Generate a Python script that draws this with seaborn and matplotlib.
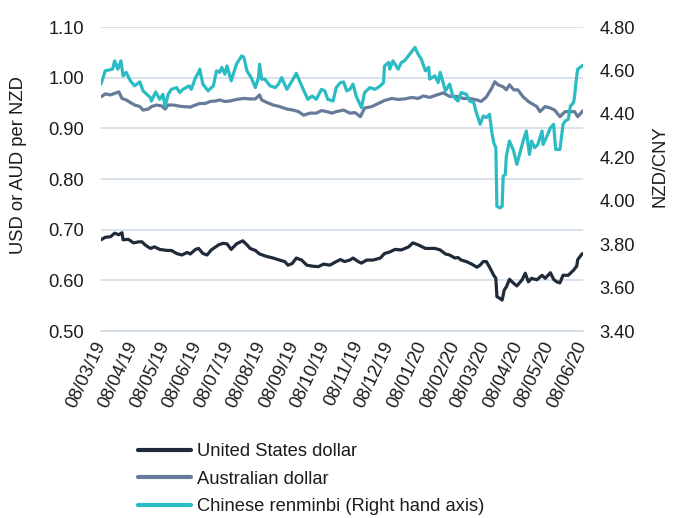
import matplotlib
matplotlib.use("Agg")
import matplotlib.pyplot as plt
from matplotlib.lines import Line2D
import seaborn as sns
import pandas as pd

# ---------------- data ----------------
usd_dates = ["2019-03-08","2019-03-12","2019-03-17","2019-03-21","2019-03-25","2019-03-28","2019-03-29",
             "2019-04-03","2019-04-08","2019-04-13","2019-04-16","2019-04-19","2019-04-24","2019-04-28",
             "2019-05-03","2019-05-10","2019-05-14","2019-05-19","2019-05-24","2019-05-29","2019-06-01",
             "2019-06-06","2019-06-09","2019-06-13","2019-06-17","2019-06-21","2019-06-28","2019-07-02",
             "2019-07-06","2019-07-10","2019-07-15","2019-07-21","2019-07-25","2019-07-28","2019-08-02",
             "2019-08-06","2019-08-13","2019-08-19","2019-08-25","2019-08-30","2019-09-02","2019-09-06",
             "2019-09-10","2019-09-15","2019-09-20","2019-09-25","2019-10-01","2019-10-06","2019-10-12",
             "2019-10-18","2019-10-22","2019-10-26","2019-10-31","2019-11-03","2019-11-08","2019-11-11",
             "2019-11-16","2019-11-22","2019-11-29","2019-12-03","2019-12-08","2019-12-13","2019-12-19",
             "2019-12-26","2019-12-30","2020-01-04","2020-01-11","2020-01-15","2020-01-20","2020-01-25",
             "2020-01-30","2020-02-03","2020-02-08","2020-02-11","2020-02-14","2020-02-19","2020-02-24",
             "2020-02-29","2020-03-03","2020-03-06","2020-03-09","2020-03-12","2020-03-16","2020-03-18",
             "2020-03-19","2020-03-22","2020-03-24","2020-03-26","2020-03-28","2020-03-31","2020-04-04",
             "2020-04-07","2020-04-12","2020-04-15","2020-04-18","2020-04-21","2020-04-26","2020-05-01",
             "2020-05-04","2020-05-09","2020-05-12","2020-05-15","2020-05-18","2020-05-21","2020-05-26",
             "2020-05-31","2020-06-03","2020-06-04","2020-06-08","2020-06-09"]
usd_values = [0.680,0.685,0.686,0.693,0.690,0.694,0.680,
              0.681,0.674,0.676,0.676,0.670,0.663,0.666,
              0.661,0.659,0.659,0.653,0.650,0.655,0.652,
              0.661,0.663,0.653,0.650,0.660,0.670,0.673,
              0.672,0.661,0.672,0.678,0.670,0.663,0.659,
              0.652,0.647,0.644,0.640,0.637,0.630,0.633,
              0.644,0.640,0.630,0.628,0.627,0.632,0.630,
              0.637,0.641,0.637,0.640,0.644,0.637,0.634,
              0.640,0.640,0.644,0.653,0.656,0.661,0.660,
              0.666,0.674,0.670,0.663,0.663,0.663,0.660,
              0.652,0.650,0.644,0.645,0.640,0.637,0.632,
              0.626,0.630,0.637,0.637,0.626,0.610,0.604,
              0.568,0.564,0.561,0.581,0.587,0.602,0.594,
              0.589,0.601,0.614,0.597,0.604,0.601,0.610,
              0.604,0.615,0.602,0.597,0.595,0.610,0.610,
              0.620,0.628,0.641,0.652,0.653]

aud_dates = ["2019-03-08","2019-03-12","2019-03-17","2019-03-21","2019-03-25","2019-03-28","2019-04-01",
             "2019-04-05","2019-04-09","2019-04-14","2019-04-17","2019-04-22","2019-04-25","2019-04-30",
             "2019-05-05","2019-05-08","2019-05-11","2019-05-16","2019-05-21","2019-05-25","2019-06-01",
             "2019-06-06","2019-06-10","2019-06-15","2019-06-20","2019-06-25","2019-06-29","2019-07-04",
             "2019-07-09","2019-07-15","2019-07-22","2019-07-28","2019-08-02","2019-08-06","2019-08-08",
             "2019-08-13","2019-08-19","2019-08-25","2019-09-01","2019-09-07","2019-09-12","2019-09-17",
             "2019-09-23","2019-09-29","2019-10-04","2019-10-09","2019-10-14","2019-10-18","2019-10-25",
             "2019-10-31","2019-11-05","2019-11-10","2019-11-14","2019-11-21","2019-11-27","2019-12-03",
             "2019-12-10","2019-12-16","2019-12-22","2019-12-29","2020-01-04","2020-01-09","2020-01-15",
             "2020-01-22","2020-01-28","2020-02-03","2020-02-10","2020-02-16","2020-02-22","2020-02-29",
             "2020-03-04","2020-03-09","2020-03-14","2020-03-17","2020-03-20","2020-03-25","2020-03-28",
             "2020-03-31","2020-04-04","2020-04-08","2020-04-13","2020-04-18","2020-04-21","2020-04-26",
             "2020-04-29","2020-05-04","2020-05-09","2020-05-13","2020-05-18","2020-05-23","2020-05-28",
             "2020-06-01","2020-06-04","2020-06-09"]
aud_values = [0.962,0.968,0.966,0.969,0.972,0.959,0.956,
              0.951,0.946,0.943,0.936,0.938,0.943,0.946,
              0.944,0.938,0.946,0.946,0.944,0.943,0.942,
              0.946,0.949,0.949,0.953,0.954,0.956,0.953,
              0.954,0.957,0.959,0.958,0.958,0.966,0.956,
              0.951,0.946,0.943,0.938,0.936,0.933,0.926,
              0.930,0.930,0.935,0.933,0.930,0.933,0.936,
              0.930,0.931,0.923,0.940,0.943,0.949,0.955,
              0.959,0.957,0.958,0.961,0.959,0.964,0.961,
              0.966,0.970,0.963,0.963,0.959,0.959,0.956,
              0.953,0.962,0.979,0.992,0.986,0.982,0.976,
              0.986,0.976,0.976,0.962,0.953,0.949,0.943,
              0.933,0.943,0.940,0.936,0.923,0.933,0.933,
              0.933,0.923,0.935]

cny_dates = ["2019-03-08","2019-03-12","2019-03-19","2019-03-21","2019-03-24","2019-03-27","2019-03-29",
             "2019-04-01","2019-04-05","2019-04-09","2019-04-14","2019-04-17","2019-04-24","2019-04-25",
             "2019-04-29","2019-05-03","2019-05-06","2019-05-08","2019-05-11","2019-05-14","2019-05-19",
             "2019-05-22","2019-05-25","2019-05-31","2019-06-02","2019-06-06","2019-06-09","2019-06-10",
             "2019-06-13","2019-06-18","2019-06-23","2019-06-26","2019-06-29","2019-07-01","2019-07-04",
             "2019-07-06","2019-07-10","2019-07-15","2019-07-20","2019-07-22","2019-07-25","2019-07-29",
             "2019-08-02","2019-08-05","2019-08-06","2019-08-08","2019-08-11","2019-08-16","2019-08-21",
             "2019-08-24","2019-08-27","2019-09-01","2019-09-06","2019-09-10","2019-09-13","2019-09-18",
             "2019-09-21","2019-09-25","2019-09-29","2019-10-04","2019-10-07","2019-10-10","2019-10-15",
             "2019-10-18","2019-10-22","2019-10-25","2019-10-28","2019-10-31","2019-11-03","2019-11-06",
             "2019-11-11","2019-11-14","2019-11-19","2019-11-24","2019-11-29","2019-12-02","2019-12-03",
             "2019-12-07","2019-12-08","2019-12-11","2019-12-16","2019-12-19","2019-12-22","2019-12-27",
             "2020-01-01","2020-01-04","2020-01-07","2020-01-11","2020-01-14","2020-01-15","2020-01-20",
             "2020-01-23","2020-01-25","2020-01-30","2020-02-03","2020-02-06","2020-02-11","2020-02-14",
             "2020-02-19","2020-02-22","2020-02-26","2020-02-28","2020-03-01","2020-03-03","2020-03-06",
             "2020-03-09","2020-03-12","2020-03-14","2020-03-16","2020-03-18","2020-03-19","2020-03-22",
             "2020-03-24","2020-03-25","2020-03-27","2020-03-28","2020-03-31","2020-04-04","2020-04-07",
             "2020-04-10","2020-04-13","2020-04-16","2020-04-19","2020-04-21","2020-04-24","2020-04-27",
             "2020-05-01","2020-05-02","2020-05-05","2020-05-09","2020-05-12","2020-05-14","2020-05-18",
             "2020-05-21","2020-05-23","2020-05-26","2020-05-28","2020-05-31","2020-06-01","2020-06-03",
             "2020-06-04","2020-06-09"]
cny_values = [4.537,4.598,4.606,4.644,4.606,4.644,4.575,
              4.591,4.552,4.529,4.547,4.506,4.475,4.459,
              4.501,4.467,4.490,4.433,4.490,4.513,4.521,
              4.498,4.513,4.529,4.513,4.567,4.591,4.606,
              4.537,4.506,4.529,4.598,4.591,4.614,4.583,
              4.621,4.552,4.629,4.667,4.661,4.598,4.567,
              4.521,4.567,4.629,4.560,4.560,4.529,4.521,
              4.537,4.567,4.513,4.552,4.587,4.552,4.498,
              4.467,4.482,4.467,4.513,4.506,4.467,4.459,
              4.521,4.544,4.547,4.506,4.513,4.537,4.482,
              4.429,4.498,4.521,4.513,4.529,4.544,4.621,
              4.637,4.606,4.644,4.606,4.637,4.644,4.675,
              4.706,4.675,4.652,4.598,4.614,4.560,4.575,
              4.544,4.591,4.506,4.537,4.482,4.459,4.498,
              4.490,4.459,4.452,4.413,4.383,4.352,4.390,
              4.383,4.398,4.321,4.267,4.244,3.974,3.967,
              3.974,4.113,4.121,4.205,4.275,4.228,4.167,
              4.221,4.275,4.321,4.213,4.275,4.244,4.259,
              4.321,4.259,4.290,4.336,4.352,4.236,4.236,
              4.352,4.367,4.375,4.436,4.452,4.482,4.575,
              4.606,4.624]

series_labels = ["United States dollar", "Australian dollar", "Chinese renminbi (Right hand axis)"]
left_ticks = [0.50, 0.60, 0.70, 0.80, 0.90, 1.00, 1.10]
right_ticks = [3.40, 3.60, 3.80, 4.00, 4.20, 4.40, 4.60, 4.80]
x_tick_dates = ["2019-03-08","2019-04-08","2019-05-08","2019-06-08","2019-07-08","2019-08-08",
                "2019-09-08","2019-10-08","2019-11-08","2019-12-08","2020-01-08","2020-02-08",
                "2020-03-08","2020-04-08","2020-05-08","2020-06-08"]
x_start, x_end = "2019-03-08", "2020-06-09"
left_label = "USD or AUD per NZD"
right_label = "NZD/CNY"

# ---------------- style ----------------
C_USD = "#1f2b39"
C_AUD = "#667b9a"
C_CNY = "#2bbcc3"
GRID = "#d5dee8"
TXT = "#1c1c1c"
FS = 13.2
LW = 2.3

sns.set_style("white")
plt.rcParams["font.family"] = ["Liberation Sans", "DejaVu Sans"]

fig = plt.figure(figsize=(6.77, 5.18), dpi=100)
W, H = 677, 518
ax = fig.add_axes([101 / W, 1 - 331 / H, 482 / W, 304 / H])
ax2 = ax.twinx()

df_usd = pd.DataFrame({"date": pd.to_datetime(usd_dates), "value": usd_values})
df_aud = pd.DataFrame({"date": pd.to_datetime(aud_dates), "value": aud_values})
df_cny = pd.DataFrame({"date": pd.to_datetime(cny_dates), "value": cny_values})

sns.lineplot(data=df_usd, x="date", y="value", ax=ax, color=C_USD, linewidth=LW, legend=False)
sns.lineplot(data=df_aud, x="date", y="value", ax=ax, color=C_AUD, linewidth=LW, legend=False)
sns.lineplot(data=df_cny, x="date", y="value", ax=ax2, color=C_CNY, linewidth=LW, legend=False)

ax.set_xlim(pd.Timestamp(x_start), pd.Timestamp(x_end))
ax.set_ylim(left_ticks[0], left_ticks[-1])
ax2.set_ylim(right_ticks[0], right_ticks[-1])
ax.set_yticks(left_ticks)
ax.set_yticklabels([f"{v:.2f}" for v in left_ticks])
ax2.set_yticks(right_ticks)
ax2.set_yticklabels([f"{v:.2f}" for v in right_ticks])

xt = pd.to_datetime(x_tick_dates)
ax.set_xticks(xt)
ax.set_xticklabels([d.strftime("%d/%m/%y") for d in xt])

ax.set_xlabel("")
ax.set_ylabel("")
ax2.set_ylabel("")

ax.grid(axis="y", color=GRID, linewidth=1.3)
ax.grid(axis="x", visible=False)
ax2.grid(False)
ax.set_axisbelow(True)

for a in (ax, ax2):
    for s in a.spines.values():
        s.set_visible(False)
ax.spines["bottom"].set_visible(True)
ax.spines["bottom"].set_color(GRID)
ax.spines["bottom"].set_linewidth(1.3)

ax.tick_params(axis="y", length=0, pad=12, labelsize=FS, labelcolor=TXT)
ax2.tick_params(axis="y", length=0, pad=12, labelsize=FS, labelcolor=TXT)
ax.tick_params(axis="x", length=5, width=1.3, color=GRID, direction="out",
               labelsize=FS, labelcolor=TXT, pad=3)
for lbl in ax.get_xticklabels():
    lbl.set_rotation(65)
    lbl.set_ha("right")
    lbl.set_va("center")
    lbl.set_rotation_mode("anchor")

fig.text(19 / W, 1 - 165 / H, left_label, rotation=90, ha="center", va="center",
         fontsize=FS, color=TXT)
fig.text(660 / W, 1 - 166 / H, right_label, rotation=90, ha="center", va="center",
         fontsize=FS, color=TXT)

handles = [Line2D([], [], color=c, linewidth=3.0) for c in (C_USD, C_AUD, C_CNY)]
fig.legend(handles, series_labels, loc="upper left", bbox_to_anchor=(138 / W, 1 - 443 / H),
           frameon=False, fontsize=FS, handlelength=2.9, handletextpad=0.33,
           labelspacing=0.58, borderpad=0, borderaxespad=0, labelcolor=TXT)

fig.savefig("out.png", dpi=100)
